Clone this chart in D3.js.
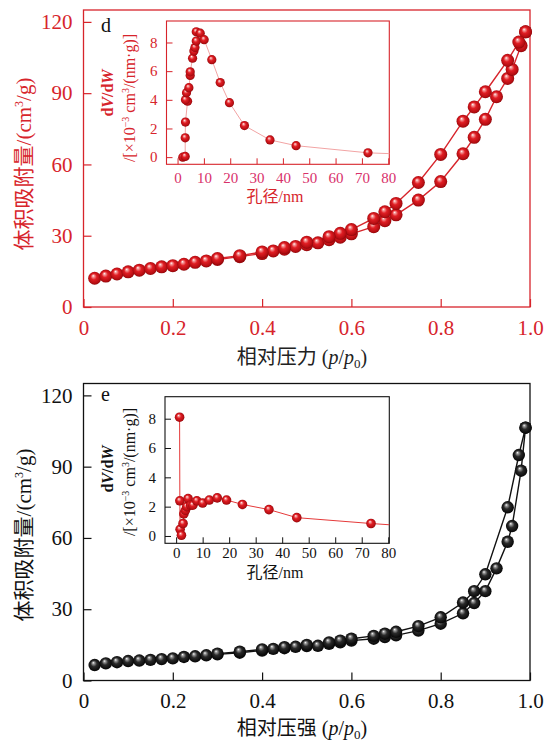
<!DOCTYPE html>
<html>
<head>
<meta charset="utf-8">
<script src="https://cdn.jsdelivr.net/npm/d3@7"></script>
<style>
  html, body { margin: 0; padding: 0; background: #fff; }
  svg { display: block; }
  text { font-family: "Liberation Serif", "Noto Sans CJK SC", serif; }
</style>
</head>
<body>
<svg id="chart" width="545" height="742"></svg>
<script>
// ---- Panel d: N2 isotherm (relative pressure, volume adsorbed cm3/g)
const dAdsP = [0.025,0.05,0.075,0.1,0.125,0.15,0.175,0.2,0.225,0.25,0.275,0.3,0.35,0.4,0.425,0.45,0.475,0.5,0.525,0.55,0.575,0.6,0.65,0.675,0.7,0.75,0.8,0.85,0.875,0.9,0.925,0.95,0.96,0.98,0.99];
const dAdsV = [12.1,13.0,13.9,14.8,15.5,16.2,16.9,17.4,18.0,18.8,19.4,20.0,21.2,22.5,23.6,24.3,25.5,26.2,27.0,28.3,29.4,30.8,33.8,36.3,38.8,45.0,52.8,64.5,71.4,79.0,88.5,96.2,100.0,110.0,115.8];
const dDesP = [0.99,0.975,0.95,0.9,0.875,0.85,0.8,0.75,0.7,0.675,0.65,0.6,0.575,0.55,0.5,0.45,0.4,0.35,0.3];
const dDesV = [115.8,111.5,103.8,90.6,84.2,78.2,64.2,52.4,43.6,40.1,37.3,32.6,31.0,29.6,27.3,25.0,23.2,21.6,20.4];
// Panel d inset: pore size distribution (nm, dV/dW x1e-3)
const dPoreD = [2.0,2.9,2.9,3.0,3.8,3.0,3.4,4.3,4.8,4.8,5.7,6.2,6.6,7.1,7.1,8.6,10.1,13.0,16.2,19.7,25.4,35.1,45.0,72.3,84];
const dPoreV = [0.0,0.05,1.35,2.45,3.9,4.0,4.5,4.85,5.7,5.95,6.9,7.4,7.65,8.1,8.75,8.65,8.2,6.8,5.2,3.8,2.2,1.2,0.8,0.3,0.22];

// ---- Panel e
const eAdsP = dAdsP;
const eAdsV = [6.5,7.2,7.7,8.2,8.4,8.7,9.0,9.3,9.9,10.2,10.6,11.0,11.7,12.6,13.3,13.6,14.2,14.5,14.6,15.4,16.1,16.8,17.6,18.3,19.0,21.0,23.9,28.3,32.6,37.6,47.2,58.4,65.0,88.3,106.4];
const eDesP = dDesP;
const eDesV = [106.4,94.9,72.9,44.7,37.6,32.8,26.6,22.9,20.5,19.7,18.8,17.6,16.8,16.0,15.0,14.0,13.1,12.1,11.3];
const ePoreD = [1.3,1.4,1.5,2.0,2.6,2.9,3.5,4.0,4.5,5.5,6.3,7.8,10.0,12.5,15.5,19.0,25.0,35.0,45.5,73.5,84];
const ePoreV = [8.1,2.4,0.45,0.05,0.85,1.5,1.75,2.0,2.55,2.1,2.1,2.4,2.25,2.45,2.6,2.45,2.15,1.8,1.25,0.85,0.72];

// axis tick values
const mainXTicks = [0,0.2,0.4,0.6,0.8,1.0];
const mainYTicks = [0,30,60,90,120];
const insetXTicks = [0,10,20,30,40,50,60,70,80];
const insetYTicks = [0,2,4,6,8];

const zip = (a, b) => a.map((v, i) => [v, b[i]]);

const svg = d3.select("#chart");
const defs = svg.append("defs");

function sphere(id, stops) {
  const g = defs.append("radialGradient").attr("id", id)
    .attr("cx", "0.5").attr("cy", "0.5").attr("r", "0.55")
    .attr("fx", "0.38").attr("fy", "0.3");
  stops.forEach(([o, c]) => g.append("stop").attr("offset", o).attr("stop-color", c));
}
sphere("ballRed", [["0%", "#ffffff"], ["14%", "#f6a0a0"], ["42%", "#e01e24"], ["80%", "#b50d12"], ["100%", "#7a0306"]]);
sphere("ballBlack", [["0%", "#ffffff"], ["16%", "#9a9a9a"], ["45%", "#2a2a2a"], ["100%", "#000000"]]);

const FONT = '"Liberation Serif", "Noto Sans CJK SC", serif';

function panel(cfg) {
  const W = 446.5, H = 297;
  const g = svg.append("g").attr("transform", `translate(${cfg.left},${cfg.top})`);
  const x = d3.scaleLinear().domain([0, 1]).range([0, W]);
  const y = d3.scaleLinear().domain([0, 125]).range([H, 0]);

  // frame
  g.append("rect").attr("width", W).attr("height", H)
    .attr("fill", "none").attr("stroke", cfg.color).attr("stroke-width", 1.3);

  const ax = d3.axisBottom(x).tickValues(mainXTicks).tickSize(-8).tickPadding(13)
    .tickFormat(d => d === 0 ? "0" : d3.format(".1f")(d));
  const ay = d3.axisLeft(y).tickValues(mainYTicks).tickSize(-8).tickPadding(11);
  [[ax, `translate(0,${H})`], [ay, null]].forEach(([a, t]) => {
    const s = g.append("g").call(a);
    if (t) s.attr("transform", t);
    s.select(".domain").remove();
    s.selectAll("line").attr("stroke", cfg.color).attr("stroke-width", 1.2);
    s.selectAll("text").attr("fill", cfg.color).style("font-family", FONT).style("font-size", "21px");
  });

  // axis titles (positions relative to the panel origin)
  const xt = g.append("text").attr("x", 218.5).attr("y", cfg.xTitleY)
    .attr("text-anchor", "middle").attr("fill", cfg.textColor).style("font-size", "20px");
  xt.append("tspan").text(cfg.xTitle + " (");
  xt.append("tspan").attr("font-style", "italic").text("p");
  xt.append("tspan").text("/");
  xt.append("tspan").attr("font-style", "italic").text("p");
  xt.append("tspan").attr("dy", 4).style("font-size", "13px").text("0");
  xt.append("tspan").attr("dy", -4).text(")");

  const yt = g.append("text").attr("transform", `translate(${31 - cfg.left},${cfg.yTitleC}) rotate(-90)`)
    .attr("text-anchor", "middle").attr("fill", cfg.color).style("font-size", "21px");
  yt.append("tspan").text("体积吸附量/(cm");
  yt.append("tspan").attr("dy", -8).style("font-size", "12px").text("3");
  yt.append("tspan").attr("dy", 8).text("/g)");

  g.append("text").attr("x", 101 - cfg.left).attr("y", cfg.letterY)
    .attr("fill", "#111").style("font-size", "20px").text(cfg.letter);

  // isotherm branches
  const line = d3.line().x(d => x(d[0])).y(d => y(d[1]));
  const ads = zip(cfg.adsP, cfg.adsV), des = zip(cfg.desP, cfg.desV);
  [ads, des].forEach(data => g.append("path").datum(data).attr("d", line)
    .attr("fill", "none").attr("stroke", cfg.color).attr("stroke-width", 1.4));
  g.append("g").selectAll("circle").data(ads.concat(des)).join("circle")
    .attr("cx", d => x(d[0])).attr("cy", d => y(d[1])).attr("r", cfg.r)
    .attr("fill", `url(#${cfg.ball})`);

  return g;
}

function inset(cfg) {
  const W = cfg.w, H = cfg.h;
  const g = svg.append("g").attr("transform", `translate(${cfg.left},${cfg.top})`);
  const x = d3.scaleLinear().domain([-4.2, 80.4]).range([0, W]);
  const y = d3.scaleLinear().domain([-0.5, 9.5]).range([H, 0]);
  const clipId = "clip-" + cfg.letter;
  defs.append("clipPath").attr("id", clipId).append("rect").attr("width", W).attr("height", H);

  g.append("rect").attr("width", W).attr("height", H).attr("fill", "#fff");

  const ax = d3.axisBottom(x).tickValues(insetXTicks).tickSize(-6).tickPadding(cfg.xPad);
  const ay = d3.axisLeft(y).tickValues(insetYTicks).tickSize(-6).tickPadding(9);
  [[ax, `translate(0,${H})`, cfg.xTickColor], [ay, null, cfg.yTickColor]].forEach(([a, t, c]) => {
    const s = g.append("g").call(a);
    if (t) s.attr("transform", t);
    s.select(".domain").remove();
    s.selectAll("line").attr("stroke", cfg.frame).attr("stroke-width", 1);
    s.selectAll("text").attr("fill", c).style("font-family", FONT).style("font-size", "15px");
  });

  g.append("rect").attr("width", W).attr("height", H)
    .attr("fill", "none").attr("stroke", cfg.frame).attr("stroke-width", 1.1);

  const line = d3.line().x(d => x(d[0])).y(d => y(d[1]));
  const pts = zip(cfg.dia, cfg.val);
  const plot = g.append("g").attr("clip-path", `url(#${clipId})`);
  plot.append("path").datum(pts).attr("d", line)
    .attr("fill", "none").attr("stroke", cfg.lineColor).attr("stroke-width", 1);
  plot.selectAll("circle").data(pts).join("circle")
    .attr("cx", d => x(d[0])).attr("cy", d => y(d[1])).attr("r", cfg.r)
    .attr("fill", "url(#ballRed)");

  // titles
  g.append("text").attr("x", 275 - cfg.left).attr("y", cfg.xTitleY)
    .attr("text-anchor", "middle").attr("fill", cfg.titleColor).style("font-size", "16px").text("孔径/nm");

  const t1 = g.append("text").attr("transform", `translate(${113 - cfg.left},${cfg.t1C}) rotate(-90)`)
    .attr("text-anchor", "middle").attr("fill", cfg.titleColor)
    .style("font-size", "16px").style("font-weight", "bold");
  t1.append("tspan").text("d");
  t1.append("tspan").attr("font-style", "italic").text("V");
  t1.append("tspan").text("/d");
  t1.append("tspan").attr("font-style", "italic").text("W");

  const t2 = g.append("text").attr("transform", `translate(${135 - cfg.left},${cfg.t2C}) rotate(-90)`)
    .attr("text-anchor", "middle").attr("fill", cfg.titleColor).style("font-size", "16px");
  t2.append("tspan").text("/[×10");
  t2.append("tspan").attr("dy", -6).style("font-size", "10px").text("−3");
  t2.append("tspan").attr("dy", 6).text(" cm");
  t2.append("tspan").attr("dy", -6).style("font-size", "10px").text("3");
  t2.append("tspan").attr("dy", 6).text("/(nm·g)]");
}

panel({
  left: 83.5, top: 10, color: "#d7242b", textColor: "#222", letter: "d",
  letterY: 22, xTitle: "相对压力", xTitleY: 354, yTitleC: 154,
  adsP: dAdsP, adsV: dAdsV, desP: dDesP, desV: dDesV, ball: "ballRed", r: 6.5
});
inset({
  left: 166.5, top: 21, w: 222.8, h: 143.3, letter: "d",
  frame: "#d7242b", xTickColor: "#d8306a", yTickColor: "#d7242b", titleColor: "#d7242b",
  lineColor: "#f2a4a4", dia: dPoreD, val: dPoreV, r: 4.6, xPad: 8,
  xTitleY: 181, t1C: 72, t2C: 77
});

panel({
  left: 83.5, top: 383.5, color: "#111", textColor: "#111", letter: "e",
  letterY: 17, xTitle: "相对压强", xTitleY: 351, yTitleC: 151.5,
  adsP: eAdsP, adsV: eAdsV, desP: eDesP, desV: eDesV, ball: "ballBlack", r: 6.2
});
inset({
  left: 165, top: 396.7, w: 224.3, h: 146.6, letter: "e",
  frame: "#111", xTickColor: "#111", yTickColor: "#111", titleColor: "#111",
  lineColor: "#e53a3a", dia: ePoreD, val: ePoreV, r: 4.8, xPad: 4,
  xTitleY: 181, t1C: 72.3, t2C: 75.3
});
</script>
</body>
</html>
